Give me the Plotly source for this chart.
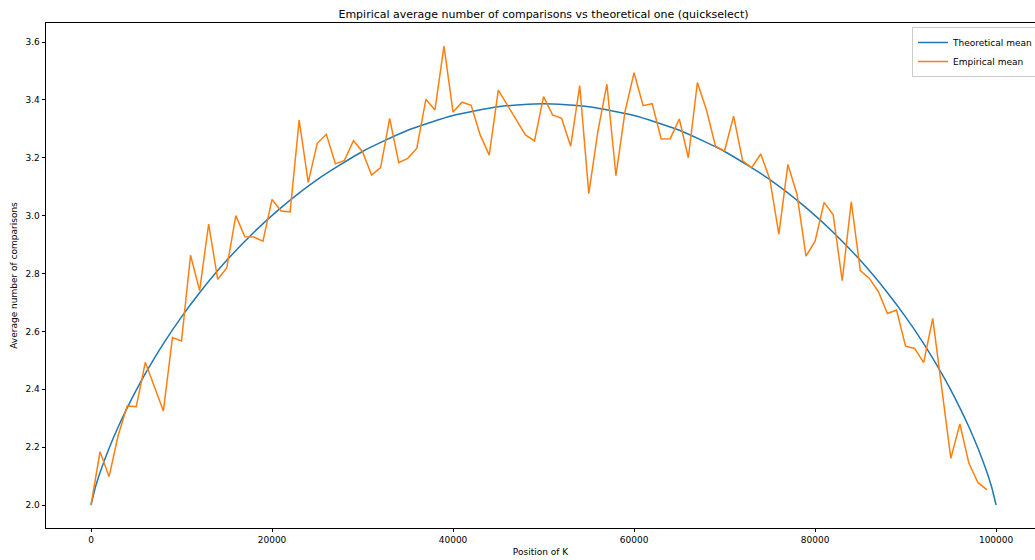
import plotly.graph_objects as go

# Empirical mean, sampled every 1000 positions (0 .. 99000)
emp_k = [i * 1000 for i in range(100)]
emp_mean = [
    2.000, 2.184, 2.098, 2.240, 2.342, 2.340, 2.493, 2.410, 2.325, 2.579,
    2.567, 2.863, 2.741, 2.971, 2.780, 2.819, 3.000, 2.927, 2.926, 2.912,
    3.056, 3.016, 3.013, 3.330, 3.115, 3.250, 3.281, 3.179, 3.191, 3.259,
    3.221, 3.140, 3.166, 3.336, 3.183, 3.198, 3.233, 3.402, 3.365, 3.586,
    3.358, 3.392, 3.381, 3.279, 3.209, 3.434, 3.382, 3.330, 3.279, 3.258,
    3.411, 3.348, 3.336, 3.240, 3.449, 3.076, 3.290, 3.454, 3.138, 3.359,
    3.494, 3.380, 3.387, 3.265, 3.266, 3.334, 3.200, 3.460, 3.365, 3.240,
    3.224, 3.344, 3.189, 3.166, 3.213, 3.126, 2.936, 3.177, 3.074, 2.860,
    2.912, 3.046, 3.003, 2.775, 3.048, 2.810, 2.783, 2.737, 2.662, 2.674,
    2.549, 2.541, 2.492, 2.645, 2.410, 2.161, 2.280, 2.144, 2.077, 2.052,
]

# Theoretical mean
theo_k = [0, 500, 1000, 2000, 3000, 4000, 5000, 6000, 8000, 10000, 12000, 15000,
          18000, 21000, 25000, 30000, 35000, 40000, 45000, 50000,
          55000, 60000, 65000, 70000, 75000, 79000, 82000, 85000, 88000, 90000,
          92000, 94000, 95000, 96000, 97000, 98000, 99000, 99500, 100000]
theo_mean = [2.0000, 2.0630, 2.1120, 2.1961, 2.2695, 2.3359, 2.3970, 2.4539, 2.5575,
             2.6502, 2.7338, 2.8454, 2.9428, 3.0279, 3.1247, 3.2217, 3.2949, 3.3460,
             3.3763, 3.3863,
             3.3763, 3.3460, 3.2949, 3.2217, 3.1247, 3.0279, 2.9428, 2.8454, 2.7338,
             2.6502, 2.5575, 2.4539, 2.3970, 2.3359, 2.2695, 2.1961, 2.1120, 2.0630,
             2.0000]

x_ticks = [0, 20000, 40000, 60000, 80000, 100000]
y_ticks = [2.0, 2.2, 2.4, 2.6, 2.8, 3.0, 3.2, 3.4, 3.6]

FONT = "DejaVu Sans"

fig = go.Figure()
fig.add_trace(go.Scatter(x=theo_k, y=theo_mean, mode="lines", name="Theoretical mean",
                         line=dict(color="#1f77b4", width=1.5, shape="spline", smoothing=0.6)))
fig.add_trace(go.Scatter(x=emp_k, y=emp_mean, mode="lines", name="Empirical mean",
                         line=dict(color="#ff7f0e", width=1.5)))

W, H = 1035, 560
L, R, T, B = 46, 0, 23, 32
pw = W - L - R
ph = H - T - B

fig.update_layout(
    width=W, height=H,
    margin=dict(l=L, r=R, t=T, b=B, autoexpand=False),
    paper_bgcolor="white", plot_bgcolor="white",
    font=dict(family=FONT, size=9, color="black"),
    title=dict(text="Empirical average number of comparisons vs theoretical one (quickselect)",
               font=dict(family=FONT, size=11, color="black"),
               x=(543.5 - L) / pw, xref="paper", xanchor="center",
               y=1 - 14 / H, yref="container", yanchor="middle"),
    showlegend=True,
    legend=dict(x=(912 - L) / pw, xanchor="left", y=1 - (27 - T) / ph, yanchor="top",
                bordercolor="#cccccc", borderwidth=1, bgcolor="rgba(255,255,255,0.8)",
                font=dict(family=FONT, size=9, color="black"),
                tracegroupgap=0, itemwidth=30),
)
fig.update_xaxes(
    range=[-4972, 104300], tickvals=x_ticks, ticktext=[str(v) for v in x_ticks],
    showgrid=False, zeroline=False, showline=True, linecolor="black", linewidth=0.8,
    mirror=True, ticks="outside", ticklen=3.5, tickwidth=0.8, tickcolor="black",
    title=dict(text="Position of K", font=dict(family=FONT, size=9), standoff=4),
)
fig.update_yaxes(
    range=[1.9205, 3.6657], tickvals=y_ticks, ticktext=[f"{v:.1f}" for v in y_ticks],
    showgrid=False, zeroline=False, showline=True, linecolor="black", linewidth=0.8,
    mirror=False, ticks="outside", ticklen=3.5, tickwidth=0.8, tickcolor="black",
    title=dict(text="Average number of comparisons", font=dict(family=FONT, size=9), standoff=6),
)

fig.write_html("out.html")
